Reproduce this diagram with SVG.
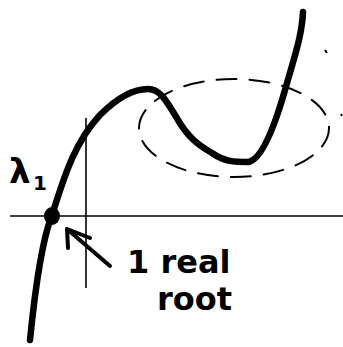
<svg xmlns="http://www.w3.org/2000/svg" width="343" height="347" viewBox="0 0 343 347">
<style>
.axis{fill:none;stroke:#000;stroke-width:1.6}
.curve{fill:none;stroke:#000;stroke-width:6.5;stroke-linecap:round;stroke-linejoin:round}
.dash{fill:none;stroke:#000;stroke-width:2;stroke-dasharray:20 13;stroke-linecap:round}
.ink{fill:none;stroke:#000;stroke-width:4;stroke-linecap:round;stroke-linejoin:round}
.lbl{font-family:"DejaVu Sans",sans-serif;font-weight:bold;fill:#000}
</style>
<rect width="343" height="347" fill="#fff"/>
<g id="axes">
<line class="axis" x1="10" y1="216" x2="343" y2="216"/>
<line class="axis" x1="86" y1="118" x2="86" y2="288"/>
</g>
<g id="region">
<ellipse class="dash" cx="234" cy="128" rx="95" ry="49"/>
<path d="M325 50 l2 3 M341 114 l1 2" stroke="#000" stroke-width="2" fill="none"/>
</g>
<g id="curve">
<path class="curve" d="M30 340 C35 290 42 240 52 215 C62 185 72 145 100 115 C118 97 135 89 148 89 C160 89 166 100 178 120 C188 137 198 145 212 153 C225 162 235 162 248 162 C262 160 275 125 285 90 C295 55 302 35 303 12"/>
</g>
<g id="root">
<ellipse cx="52" cy="216" rx="8" ry="9" fill="#000"/>
</g>
<g id="connectors">
<path class="ink" d="M110 266 L67 229 M67 229 L68 248 M67 229 L90 238"/>
</g>
<g id="labels">
<text class="lbl" x="9" y="183" font-size="34">λ</text>
<text class="lbl" x="33" y="190" font-size="20">1</text>
<text class="lbl" x="127" y="273" font-size="32">1 real</text>
<text class="lbl" x="157" y="310" font-size="32">root</text>
</g>
</svg>
